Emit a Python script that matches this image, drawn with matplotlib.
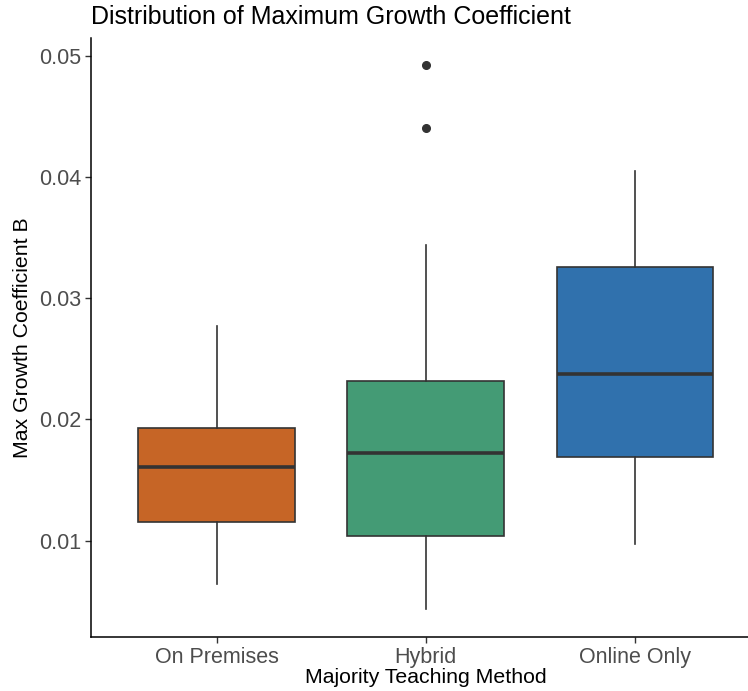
import matplotlib
matplotlib.use("Agg")
import matplotlib.pyplot as plt

categories = ["On Premises", "Hybrid", "Online Only"]
whisker_low = [0.00638, 0.00432, 0.00975]
q1 = [0.0115, 0.0104, 0.0169]
median = [0.0161, 0.0172, 0.0237]
q3 = [0.0193, 0.0232, 0.0326]
whisker_high = [0.0277, 0.0344, 0.0405]
outliers = [[], [0.0440, 0.0492], []]
colors = ["#C66526", "#449B75", "#3071AD"]
yticks = [0.01, 0.02, 0.03, 0.04, 0.05]
ytick_labels = ["0.01", "0.02", "0.03", "0.04", "0.05"]

plt.rcParams['font.family'] = ['Liberation Sans', 'DejaVu Sans']

W, H = 748, 691
fig = plt.figure(figsize=(W/100, H/100), dpi=100)
# panel extends a bit past the right edge of the image (cropped, as in the reference)
ax = fig.add_axes([91/W, (H-637)/H, 669.5/W, (637-38)/H])

stats = []
for i, c in enumerate(categories):
    stats.append(dict(label=c, whislo=whisker_low[i], q1=q1[i], med=median[i],
                      q3=q3[i], whishi=whisker_high[i], fliers=outliers[i]))

positions = list(range(1, len(categories) + 1))
bp = ax.bxp(stats, positions=positions, widths=0.75, patch_artist=True,
            showcaps=False,
            boxprops=dict(edgecolor="#333333", linewidth=1.2),
            whiskerprops=dict(color="#333333", linewidth=1.2),
            medianprops=dict(color="#333333", linewidth=2.6),
            flierprops=dict(marker="o", markerfacecolor="#333333",
                            markeredgecolor="#333333", markersize=5.5))
for patch, col in zip(bp["boxes"], colors):
    patch.set_facecolor(col)

ax.set_xlim(0.4, 3.6)
ax.set_ylim(0.00205, 0.05145)
ax.set_yticks(yticks)
ax.set_yticklabels(ytick_labels)
ax.set_xticks(positions)
ax.set_xticklabels(categories)

for s in ["top", "right"]:
    ax.spines[s].set_visible(False)
for s in ["left", "bottom"]:
    ax.spines[s].set_color("black")
    ax.spines[s].set_linewidth(1.1)

ax.tick_params(axis="both", colors="#333333", length=4.5, width=1,
               labelsize=15.5, labelcolor="#4D4D4D", pad=2.5)

ax.set_xlabel("Majority Teaching Method", fontsize=15.3, color="black", labelpad=0)
ax.set_ylabel("Max Growth Coefficient B", fontsize=15.3, color="black", labelpad=5)
fig.text(91/W, 1 - 24/H, "Distribution of Maximum Growth Coefficient",
         fontsize=18, color="black", va="baseline", ha="left")

fig.savefig("out.png", dpi=100, facecolor="white")
